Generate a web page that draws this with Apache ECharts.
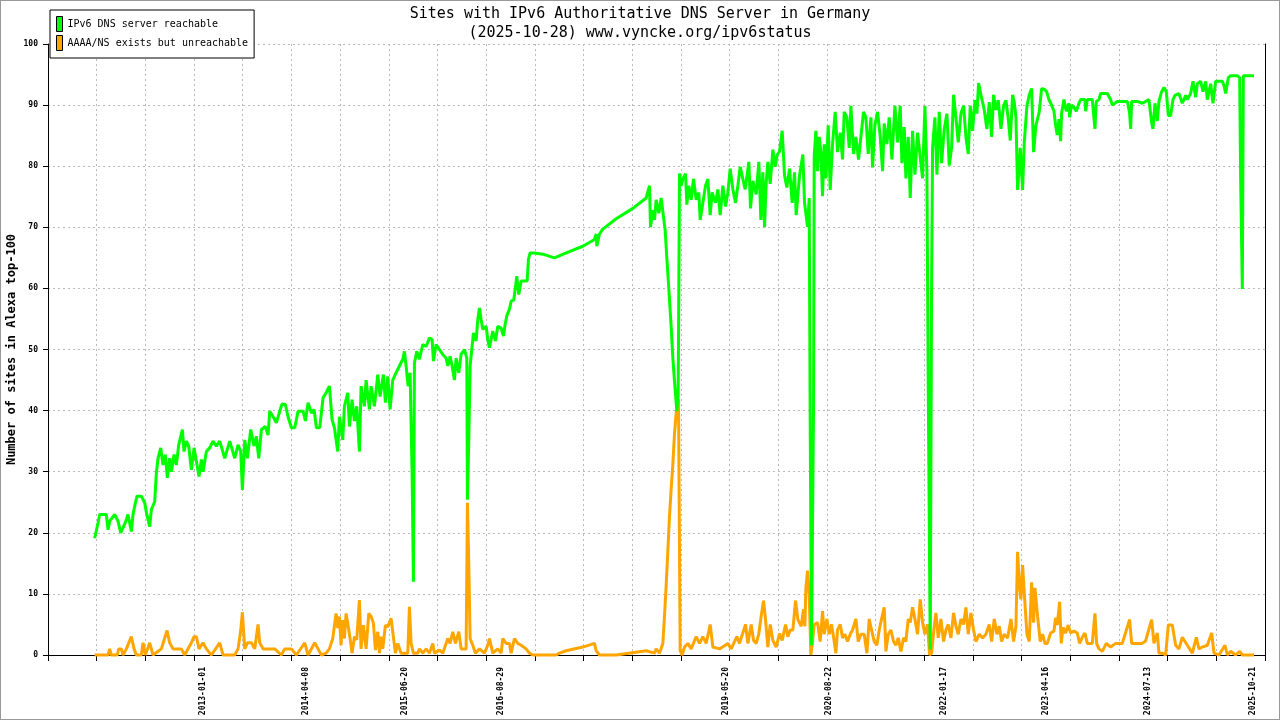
<!DOCTYPE html>
<html>
<head>
<meta charset="utf-8">
<script src="https://cdn.jsdelivr.net/npm/echarts@6/dist/echarts.min.js"></script>
<style>
  html, body { margin: 0; padding: 0; background: #fff; }
  #chart { width: 1280px; height: 720px; }
  #frame { position: absolute; left: 0; top: 0; width: 1280px; height: 720px; box-sizing: border-box; border: 1px solid #999; pointer-events: none; }
</style>
</head>
<body>
<div id="chart"></div>
<div id="frame"></div>
<script>
// x = observation index (sample position along the index-based axis)
const xMax = 3650;
const xTickStep = 146;
const yTickValues = [0, 10, 20, 30, 40, 50, 60, 70, 80, 90, 100];
const labelPos = [466, 773, 1071, 1357, 2032, 2342, 2688, 2994, 3299, 3613];
const tickLabels = ['2013-01-01', '2014-04-08', '2015-06-20', '2016-08-29', '2019-05-20', '2020-08-22', '2022-01-17', '2023-04-16', '2024-07-13', '2025-10-21'];
const seriesNames = ['IPv6 DNS server reachable', 'AAAA/NS exists but unreachable'];

const reachable = [
[140,19.1],[150,21.6],[155,23],[175,23],[180,20.5],[185,21.9],[200,23],[210,21.9],[218,20],[225,20.8],[232,21.7],[240,23],[250,20.2],[255,23],[262,24.9],[267,26],[280,26],[290,24.9],[296,23.1],[305,21],[310,23.8],[320,25.1],[325,29.8],[330,32.2],[338,33.9],[345,31.1],[352,32.8],[358,29],[365,32.2],[370,30],[378,32.8],[385,31.1],[392,34.4],[403,36.9],[408,33.3],[415,35],[422,34.2],[430,30.3],[438,33.9],[445,31.7],[453,29.2],[460,32],[465,30],[475,33.3],[485,33.9],[495,35],[505,34.2],[515,35],[530,32.2],[545,35],[560,32.2],[570,34.4],[578,33.3],[583,27],[590,35.2],[598,32.2],[608,36.9],[618,34.2],[625,35.8],[632,32.2],[640,36.9],[652,37.4],[660,36],[665,39.9],[675,39],[685,38],[695,39.9],[702,41.1],[712,41],[720,39],[730,37.2],[740,37.2],[750,39.9],[765,39.9],[772,38.3],[780,41.3],[790,39.6],[798,40.2],[805,37.2],[815,37.2],[825,42.1],[834,42.9],
[844,44],[852,38.5],[859,37.2],[869,33.3],[874,39],[884,35.2],[889,40.7],[899,42.9],[904,37.4],[912,41.8],[919,38.3],[926,40.7],[934,33.3],[939,44],[949,40.7],[954,45],[964,40.2],[969,44],[979,40.7],[989,45.9],[996,42.3],[1006,45.9],[1012,41.3],[1019,45.6],[1026,40.2],[1034,45],[1044,46.2],[1054,47.3],[1064,48.4],[1069,49.7],[1074,47.3],[1080,44],[1086,46.2],[1092,29.8],[1096,12],[1099,47.8],[1106,49.7],[1114,48.4],[1124,50.8],[1134,50.5],[1144,51.9],[1152,51.6],[1156,48.1],[1164,50.8],[1174,50],[1184,49.2],[1194,48.6],[1199,47.3],[1206,48.9],[1212,47.3],[1219,45],[1224,48.6],[1232,46.2],[1239,49.2],[1249,50],[1256,48.6],[1258,25.4],[1262,35.2],[1266,47.3],[1271,50],[1276,52.7],[1284,51.4],[1289,54.9],[1294,56.8],[1299,54.9],[1304,53.3],[1314,53.8],[1319,51.6],[1324,50.3],[1334,53],[1342,51.4],[1349,53.8],[1359,53.5],[1366,52.2],[1371,54.1],[1376,55.5],[1384,56.6],[1389,57.9],[1397,58.1],[1401,59.8],[1406,62],[1412,59],[1419,61.2],[1437,61.2],[1441,64.8],[1446,65.8],[1459,65.8],[1484,65.6],[1519,65],[1554,65.8],
[1604,66.9],[1639,68],[1644,68.9],[1646,66.9],[1654,68.9],[1664,69.7],[1704,71.4],[1754,73.1],[1794,74.8],[1804,76.8],[1807,70],[1814,72.8],[1819,71.2],[1824,74.5],[1832,72.3],[1839,74.8],[1846,71.7],[1851,69.5],[1856,65],[1862,59.9],[1869,53.7],[1874,48.6],[1880,44.1],[1886,39.9],[1890,42.4],[1894,78.8],[1899,76.8],[1904,77.9],[1912,78.8],[1916,73.7],[1922,76.8],[1929,74.5],[1936,77.9],[1944,74.5],[1952,75.7],[1956,71.2],[1964,74],[1972,76.8],[1979,77.9],[1986,72],[1992,75.7],[2002,74],[2009,76.2],[2016,72],[2024,76.8],[2032,73.4],[2039,75.7],[2046,79.6],[2054,76.2],[2062,74],[2069,76.8],[2076,79.9],[2084,77.9],[2091,76.2],[2102,80.7],[2107,73.1],[2114,77.6],[2124,75.4],[2132,80.7],[2138,71.2],[2144,79],[2149,70],[2154,77.4],[2159,80.7],[2166,77.1],[2174,82.7],[2181,79.9],[2187,81.9],[2194,82.4],[2202,85.8],[2209,78.5],[2216,76.5],[2224,79.6],[2232,74],[2239,79],[2244,72],[2254,78.5],[2264,81.9],[2269,74],
[2273,74.2],[2278,70.1],[2283,74.8],[2286,37.3],[2290,1.6],[2296,41],[2298,81.7],[2303,85.8],[2308,79.2],[2313,84.8],[2318,82.3],[2323,75.1],[2328,83.6],[2333,78],[2340,86.7],[2346,76.1],[2353,83.6],[2361,88.9],[2368,82.3],[2376,85.5],[2383,81.1],[2388,88.9],[2396,88],[2403,83],[2408,89.9],[2416,82],[2423,84.8],[2431,81.1],[2438,84.8],[2446,88.9],[2453,88],[2460,82],[2468,88],[2473,79.8],[2480,86.7],[2488,88.9],[2496,84.8],[2503,79.2],[2508,87],[2516,83.6],[2523,88],[2531,81.1],[2540,89.9],[2548,83.9],[2556,89.9],[2561,80.5],[2568,86.4],[2573,78],[2580,84.8],[2586,74.8],[2593,85.8],[2600,78.6],[2608,85.5],[2616,81.4],[2623,78],[2630,89.9],[2636,79.2],[2640,44.1],[2646,0.9],[2650,59.8],[2653,83],[2660,88],[2666,78.6],[2673,88.9],[2680,80.5],[2688,86.1],[2696,88.6],[2703,80.1],[2710,83],[2716,91.7],[2723,88],[2730,83.9],[2738,88.6],[2746,89.9],[2753,84.8],[2760,82],[2766,89.9],[2773,85.8],[2780,90.8],[2786,88.6],[2791,93.6],[2798,91.7],[2808,89.2],[2816,86.1],[2823,90.5],[2830,84.8],[2836,91.7],[2843,89.2],[2850,90.8],[2858,86.1],[2866,89.9],[2873,90.8],[2880,87.7],[2886,84.2],[2893,91.7],[2898,90.5],[2903,88],[2908,76.1],[2916,83],[2923,76.1],[2928,83.9],[2936,89.9],[2943,91.7],[2950,92.7],[2956,82.3],[2963,86.7],[2973,88.9],[2980,92.7],
[2988,92.6],[2995,92.2],[3002,90.9],[3010,90],[3017,89],[3022,86.7],[3027,85.1],[3032,87.7],[3037,84.1],[3040,88.7],[3047,90.9],[3054,89],[3062,90.3],[3064,88],[3070,90],[3077,89.6],[3084,89],[3092,90.3],[3097,90.9],[3110,90.9],[3112,89],[3117,90.9],[3132,90.9],[3140,86.1],[3144,90.6],[3152,90.9],[3157,91.9],[3177,91.9],[3187,90.9],[3192,90],[3207,90.6],[3222,90.6],[3237,90.6],[3244,88.7],[3247,86.1],[3250,90.6],[3267,90.6],[3282,90.3],[3302,90.9],[3310,87.1],[3314,86.1],[3320,90.3],[3327,87.4],[3332,90.6],[3340,92.2],[3347,92.9],[3354,92.2],[3360,88.3],[3367,88.3],[3374,90.9],[3380,91.6],[3392,91.9],[3402,90.3],[3412,91.6],[3417,90.9],[3427,91.9],[3434,93.9],[3442,91.3],[3447,93.5],[3457,93.9],[3464,92.2],[3472,93.9],[3477,90.9],[3487,93.5],[3494,90.3],[3502,93.9],[3522,93.9],[3527,93.2],[3532,91.9],[3540,94.5],[3547,94.8],[3557,94.8],[3567,94.8],[3574,94.5],[3577,77.7],[3582,59.9],[3585,94.8],[3597,94.8],[3617,94.8]
];

const unreachable = [
[140,0],[180,0],[185,1],[190,0],[208,0],[212,1],[220,1],[225,0],[235,1],[250,3],[258,1],[265,0],[280,0],[285,2],[292,0],[305,2],[315,0],[340,1],[357,4],[365,2],[375,1],[385,1],[400,1],[410,0],[430,2],[438,3],[445,3],[453,1],[465,2],[475,1],[490,0],[515,2],[525,0],[560,0],[570,1],[578,4],[583,7],[590,1],[598,2],[610,2],[620,1],[630,5],[635,2],[645,1],[660,1],[680,1],[700,0],[710,1],[720,1],[730,1],[745,0],[770,2],[780,0],[800,2],[810,1],[820,0],[834,0.3],
[844,1],[854,2.7],[864,6.8],[869,4.4],[874,6.3],[879,1.6],[884,5.7],[889,2.7],[894,6.8],[899,5.2],[906,2.7],[912,0.3],[919,3],[926,2.5],[934,9],[939,1],[946,4.9],[954,1],[962,6.8],[969,6.3],[976,5.2],[982,0.8],[989,3.8],[994,0.3],[999,3],[1004,1],[1012,4.9],[1019,4.6],[1029,6],[1034,3.8],[1042,0.3],[1049,1.9],[1059,0.3],[1079,0.3],[1084,7.9],[1089,1.9],[1096,0.3],[1109,0.3],[1114,1],[1124,0.3],[1134,1],[1144,0.3],[1154,1.9],[1159,0.3],[1174,0.8],[1184,0.3],[1199,2.7],[1206,1.9],[1214,3.8],[1222,1.9],[1232,3.8],[1239,1],[1254,1],[1258,24.9],[1262,15],[1266,2.7],[1274,1.6],[1282,0.3],[1294,1],[1309,0.3],[1319,1.6],[1324,2.7],[1334,0.3],[1349,1],[1359,0.3],[1364,2.7],[1374,1.9],[1384,1.9],[1389,0.3],[1399,2.7],[1409,1.9],[1419,1.6],[1434,1],[1444,0.3],[1454,0],[1524,0],[1534,0.3],[1554,0.7],
[1604,1.3],[1639,1.9],[1644,0.7],[1654,0],[1704,0],[1794,0.7],[1819,0.3],[1824,1],[1834,0.3],[1844,1.9],[1849,6.4],[1854,11.4],[1859,17],[1864,22.7],[1869,27.2],[1874,31.2],[1879,36.2],[1884,39.6],[1891,41.9],[1896,0.7],[1902,0],[1909,1.3],[1919,1.9],[1929,1],[1944,3],[1954,1.9],[1964,3],[1974,1.9],[1986,5],[1994,1.3],[2014,1],[2039,1.9],[2049,1],[2066,3],[2074,1.9],[2092,5],[2099,1.9],[2109,5],[2116,2.4],[2124,1.9],[2132,3.5],[2139,6.4],[2146,8.9],[2152,5.8],[2159,1.3],[2166,5],[2174,2.4],[2184,1.3],[2194,3.5],[2202,2.4],[2212,5],[2219,3],[2226,4.1],[2234,4.1],[2242,8.9],[2249,5.8],[2259,4.7],[2266,7.5],[2270,4.7],
[2273,11],[2278,13.8],[2283,9.7],[2288,0],[2293,2.2],[2298,5],[2308,5.3],[2316,2.2],[2323,7.2],[2328,3.4],[2336,5.9],[2343,3.4],[2350,5],[2358,2.2],[2363,0.3],[2368,4.1],[2376,5],[2383,2.8],[2390,3.4],[2398,2.2],[2406,3.4],[2413,4.1],[2423,5.9],[2430,2.2],[2438,3.4],[2448,3.4],[2456,0.3],[2463,5.9],[2470,4.1],[2478,2.2],[2486,1.6],[2493,4.1],[2500,5.9],[2508,7.8],[2513,0.6],[2520,3.4],[2528,4.1],[2536,2.2],[2543,1.6],[2550,2.8],[2558,0.6],[2566,2.8],[2573,2.2],[2580,5.9],[2586,5.3],[2593,7.8],[2600,5.9],[2608,3.4],[2616,9.1],[2623,5.3],[2630,3.4],[2638,5],[2644,0],[2650,0.3],[2658,4.7],[2663,6.9],[2670,2.8],[2678,5.9],[2686,2.2],[2693,4.1],[2700,5],[2708,2.8],[2716,6.9],[2723,4.7],[2730,3.4],[2738,5.9],[2746,5],[2753,7.8],[2760,3.4],[2768,6.9],[2776,4.1],[2783,2.2],[2793,3.4],[2803,2.8],[2813,3.4],[2823,5],[2830,2.2],[2838,5.9],[2846,3.4],[2853,4.7],[2860,2.2],[2868,3.4],[2878,2.8],[2888,5.9],[2896,2.2],[2903,4.7],[2908,16.9],[2913,11.6],[2918,9.1],[2923,14.7],[2930,8.5],[2936,3.4],[2943,2.2],[2950,11.9],[2956,5.3],[2960,11],[2968,6.3],[2976,2.2],[2983,3.4],[2990,1.9],
[2997,1.9],[3007,3.6],[3017,3.9],[3022,6.1],[3027,4.9],[3034,8.7],[3039,1.9],[3044,4.5],[3052,3.6],[3060,4.9],[3067,3.6],[3077,3.9],[3087,3.6],[3094,1.9],[3102,2.9],[3110,3.6],[3117,1.9],[3132,1.9],[3140,6.8],[3145,1.9],[3152,1],[3162,0.6],[3174,1.9],[3187,1.3],[3202,1.9],[3222,1.9],[3244,5.8],[3250,1.9],[3267,1.9],[3282,1.9],[3292,2.3],[3310,5.8],[3317,1.9],[3327,3.6],[3332,0.3],[3342,0.3],[3352,0],[3360,4.9],[3372,4.9],[3382,1.6],[3392,1],[3402,2.9],[3417,1.6],[3432,0.3],[3444,2.9],[3452,1],[3462,1.3],[3477,1.6],[3490,3.6],[3497,0.3],[3512,0],[3530,1.6],[3537,0],[3547,0.6],[3562,0],[3574,0.6],[3582,0],[3617,0]
];

const MONO = '"DejaVu Sans Mono", "Liberation Mono", monospace';
const chart = echarts.init(document.getElementById('chart'), null, { renderer: 'canvas' });
chart.setOption({
  animation: false,
  backgroundColor: '#fff',
  title: {
    text: 'Sites with IPv6 Authoritative DNS Server in Germany\n(2025-10-28) www.vyncke.org/ipv6status',
    left: 'center', top: 5, padding: 0,
    textStyle: { fontFamily: MONO, fontSize: 15, fontWeight: 'normal', color: '#000', lineHeight: 19, align: 'center' }
  },
  legend: {
    data: seriesNames,
    orient: 'vertical', left: 50, top: 10,
    icon: 'rect', itemWidth: 6, itemHeight: 15, itemGap: 3,
    padding: [6, 6, 7, 6],
    backgroundColor: '#fff', borderColor: '#000', borderWidth: 1, borderRadius: 0,
    itemStyle: { borderColor: '#000', borderWidth: 1 },
    textStyle: { fontFamily: MONO, fontSize: 10, color: '#000' }
  },
  grid: { left: 48, right: 15, top: 44, bottom: 65, containLabel: false, outerBoundsMode: 'none' },
  xAxis: {
    type: 'value', min: 0, max: xMax, interval: xTickStep,
    axisLine: { show: true, lineStyle: { color: '#000', width: 1 } },
    axisTick: { show: true, length: 6, lineStyle: { color: '#000' } },
    splitLine: { show: true, lineStyle: { color: '#bbb', type: [2, 3], width: 1 } },
    axisLabel: {
      customValues: labelPos,
      rotate: 90, margin: 12,
      fontFamily: MONO, fontSize: 8, fontWeight: 'bold', color: '#000',
      formatter: function (v) { const i = labelPos.indexOf(v); return i >= 0 ? tickLabels[i] : ''; }
    }
  },
  yAxis: [{
    type: 'value', min: yTickValues[0], max: yTickValues[yTickValues.length - 1], interval: 10,
    name: 'Number of sites in Alexa top-100', nameLocation: 'middle', nameGap: 30, nameMoveOverlap: false,
    nameTextStyle: { fontFamily: MONO, fontSize: 12, fontWeight: 'bold', color: '#000' },
    axisLine: { show: true, lineStyle: { color: '#000', width: 1 } },
    axisTick: { show: true, length: 5, lineStyle: { color: '#000' } },
    splitLine: { show: true, lineStyle: { color: '#bbb', type: [2, 3], width: 1 } },
    axisLabel: { margin: 10, fontFamily: MONO, fontSize: 8, fontWeight: 'bold', color: '#000' }
  }, {
    type: 'value', min: 0, max: 100, position: 'right',
    axisLine: { show: true, lineStyle: { color: '#000', width: 1 } },
    axisTick: { show: false }, axisLabel: { show: false }, splitLine: { show: false }
  }],
  series: [{
    name: seriesNames[1], type: 'line', data: unreachable, symbol: 'none',
    color: '#ffa500', lineStyle: { color: '#ffa500', width: 3 }, clip: false
  }, {
    name: seriesNames[0], type: 'line', data: reachable, symbol: 'none',
    color: '#00ff00', lineStyle: { color: '#00ff00', width: 3 }, clip: false
  }]
});
</script>
</body>
</html>
